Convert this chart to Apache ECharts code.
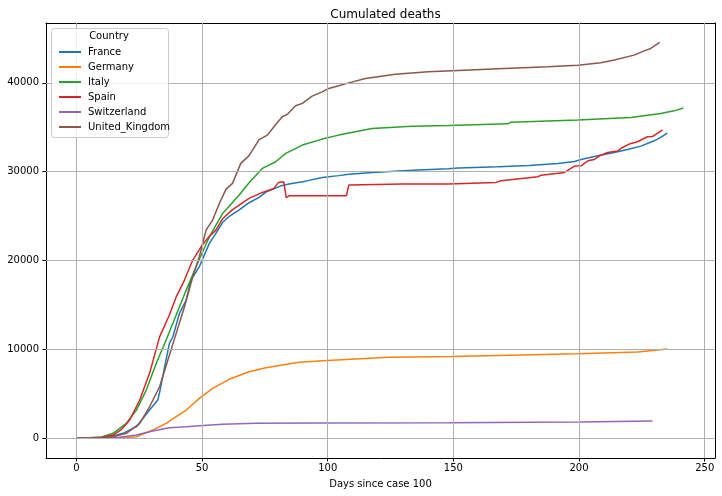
<!DOCTYPE html>
<html>
<head>
<meta charset="utf-8">
<script src="https://cdn.jsdelivr.net/npm/echarts@6/dist/echarts.min.js"></script>
<style>html,body{margin:0;padding:0;background:#fff}#c{width:722px;height:496px}</style>
</head>
<body>
<div id="c"></div>
<script>
const countries = ['France','Germany','Italy','Spain','Switzerland','United_Kingdom'];
const colors = ['#1f77b4','#ff7f0e','#2ca02c','#d62728','#9467bd','#8c564b'];
const xTicks = [0,50,100,150,200,250];
const yTicks = [0,10000,20000,30000,40000];

const franceDays = [0,5,10,14,18.5,23.9,29.1,32.4,33.3,35.1,37,38.4,41,43.7,45.6,48.9,52.9,55.5,58.2,61,64.8,68.7,72.7,75.4,78,81.9,84.6,91.2,97.8,104.4,108.4,118,128.2,136.1,148,152,167.8,180,191.6,198.2,200.8,207.4,214,219.3,224.6,229.9,232.5,235.1];
const franceDeaths = [0,20,80,200,550,1300,3170,4300,5420,8040,10680,11420,14050,15550,17800,19300,21930,23050,24300,25000,25700,26500,27100,27700,28000,28450,28600,28930,29350,29550,29700,29900,30060,30170,30320,30400,30540,30700,30920,31150,31370,31780,32160,32500,32870,33470,33850,34340];

const germanyDays = [0,10,15,20,23.9,30.4,35.7,39.7,43.7,48.9,54.2,60.8,68.7,75.4,88.6,99.8,124.2,149.3,199.5,223.3,235.1];
const germanyDeaths = [0,5,30,80,170,920,1680,2420,3170,4490,5610,6630,7480,7930,8540,8760,9100,9210,9510,9700,10035];

const italyDays = [0,5,10,14.6,19.9,23.9,27.8,31.8,35.7,39.7,43.7,47.6,52.9,58.2,64.8,68.7,74,79.3,83.3,89.9,97.8,104.4,117.6,133.5,148,171.7,173,199.5,220.6,232.5,237.8,241.5];
const italyDeaths = [0,40,150,550,1680,3170,5420,8430,11050,13860,16670,19300,22670,25300,27360,28740,30360,31110,32050,32990,33660,34110,34860,35120,35200,35380,35570,35800,36100,36550,36840,37150];

const spainDays = [0,5,10,14.6,18,21.2,25.2,29.1,33.1,37,39.7,43,46.3,49.6,52.5,55.5,58.2,62,68.7,74,78.6,80.4,82.5,83.5,84.6,107.4,108.4,130,148,167,169,183.6,185,194.2,198.2,200.8,203.5,206.1,208.7,211.4,215.3,217.3,220,223.3,227.2,229.2,233.2];
const spainDeaths = [0,30,120,360,1000,2050,4300,7300,11400,13860,15900,17800,20050,21540,22600,23420,24700,25700,26990,27660,28110,28790,28860,27060,27280,27280,28490,28600,28600,28790,28970,29420,29600,29910,30620,30650,31220,31370,31860,32160,32310,32720,33100,33360,33920,33950,34700];

const switzerlandDays = [0,10,17.2,23.9,30.4,37,43.7,48.9,58.2,71.4,97.8,148,200,229.2];
const switzerlandDeaths = [0,10,100,360,810,1180,1300,1410,1560,1680,1720,1740,1820,1950];

const ukDays = [0,5,10,15,19.9,25.2,29.1,33.1,36.4,39.7,43,46.3,48.9,51.6,54.2,57,59.5,62.1,65.4,68.7,72.7,76,79,81.9,83.9,87.2,89.9,93.8,97.8,100.4,104.4,108.4,115,126.9,140,152,167.8,187.6,199.5,208.7,214,221.9,225.9,228.5,232.1];
const ukDeaths = [0,10,50,200,550,1680,3540,5790,8800,11800,14790,18170,20420,23420,24550,26500,28000,28680,30930,31800,33600,34110,35200,36170,36440,37410,37680,38500,38980,39360,39660,39990,40490,40970,41230,41390,41570,41790,41980,42240,42550,43110,43590,43860,44540];

const allDays = [franceDays, germanyDays, italyDays, spainDays, switzerlandDays, ukDays];
const allDeaths = [franceDeaths, germanyDeaths, italyDeaths, spainDeaths, switzerlandDeaths, ukDeaths];

const FONT = 'DejaVu Sans';
const chart = echarts.init(document.getElementById('c'), null, {renderer:'canvas'});

const series = [{
  name: '__grid', type: 'line', data: [], z: 1, silent: true,
  markLine: {
    silent: true, symbol: 'none', animation: false,
    label: {show: false},
    lineStyle: {color: '#b0b0b0', type: 'solid', width: 1},
    emphasis: {disabled: true},
    data: xTicks.map(v => ({xAxis: v})).concat(yTicks.map(v => ({yAxis: v})))
  }
}];
countries.forEach((name, i) => {
  series.push({
    name, type: 'line', showSymbol: false, symbol: 'none', z: 2,
    lineStyle: {width: 1.5, color: colors[i]},
    itemStyle: {color: colors[i]},
    emphasis: {disabled: true},
    data: allDays[i].map((d, k) => [d, allDeaths[i][k]])
  });
});

chart.setOption({
  animation: false,
  backgroundColor: '#fff',
  textStyle: {fontFamily: FONT},
  title: {
    text: 'Cumulated deaths', left: 380.5, textAlign: 'center', top: 4,
    textStyle: {fontFamily: FONT, fontSize: 12, fontWeight: 'normal', color: '#000'}
  },
  grid: {left: 46, right: 7, top: 23, bottom: 38, containLabel: false},
  xAxis: [{
    type: 'value', min: -12.1, max: 254.1,
    name: 'Days since case 100', nameLocation: 'middle', nameGap: 21,
    nameTextStyle: {fontFamily: FONT, fontSize: 10, color: '#000'},
    axisLine: {show: true, onZero: false, lineStyle: {color: '#000', width: 1}},
    axisTick: {show: true, customValues: xTicks, length: 3.5, lineStyle: {color: '#000', width: 1}},
    axisLabel: {customValues: xTicks, fontFamily: FONT, fontSize: 10, color: '#000', margin: 5, formatter: v => String(v)},
    splitLine: {show: false}
  }, {
    type: 'value', position: 'top', min: -12.1, max: 254.1,
    axisLine: {show: true, onZero: false, lineStyle: {color: '#000', width: 1}},
    axisTick: {show: false}, axisLabel: {show: false}, splitLine: {show: false}
  }],
  yAxis: [{
    type: 'value', min: -2225, max: 46725,
    axisLine: {show: true, onZero: false, lineStyle: {color: '#000', width: 1}},
    axisTick: {show: true, customValues: yTicks, length: 3.5, lineStyle: {color: '#000', width: 1}},
    axisLabel: {customValues: yTicks, fontFamily: FONT, fontSize: 10, color: '#000', margin: 7, formatter: v => String(v)},
    splitLine: {show: false}
  }, {
    type: 'value', position: 'right', min: -2225, max: 46725,
    axisLine: {show: true, onZero: false, lineStyle: {color: '#000', width: 1}},
    axisTick: {show: false}, axisLabel: {show: false}, splitLine: {show: false}
  }],
  legend: {
    data: countries, orient: 'vertical', left: 54, top: 41,
    icon: 'rect', itemWidth: 22, itemHeight: 2, itemGap: 3,
    textStyle: {fontFamily: FONT, fontSize: 10, color: '#000', lineHeight: 12, padding: [0,0,0,2]},
    selectedMode: false, z: 10
  },
  graphic: [{
    type: 'rect', z: 9, silent: true,
    shape: {x: 51.5, y: 28.5, width: 117, height: 109, r: 3},
    style: {fill: 'rgba(255,255,255,0.8)', stroke: '#cccccc', lineWidth: 1}
  }, {
    type: 'text', z: 10, silent: true, x: 109, y: 36,
    style: {text: 'Country', font: '10px "DejaVu Sans"', fill: '#000', align: 'center', verticalAlign: 'middle'}
  }],
  series
});
</script>
</body>
</html>
